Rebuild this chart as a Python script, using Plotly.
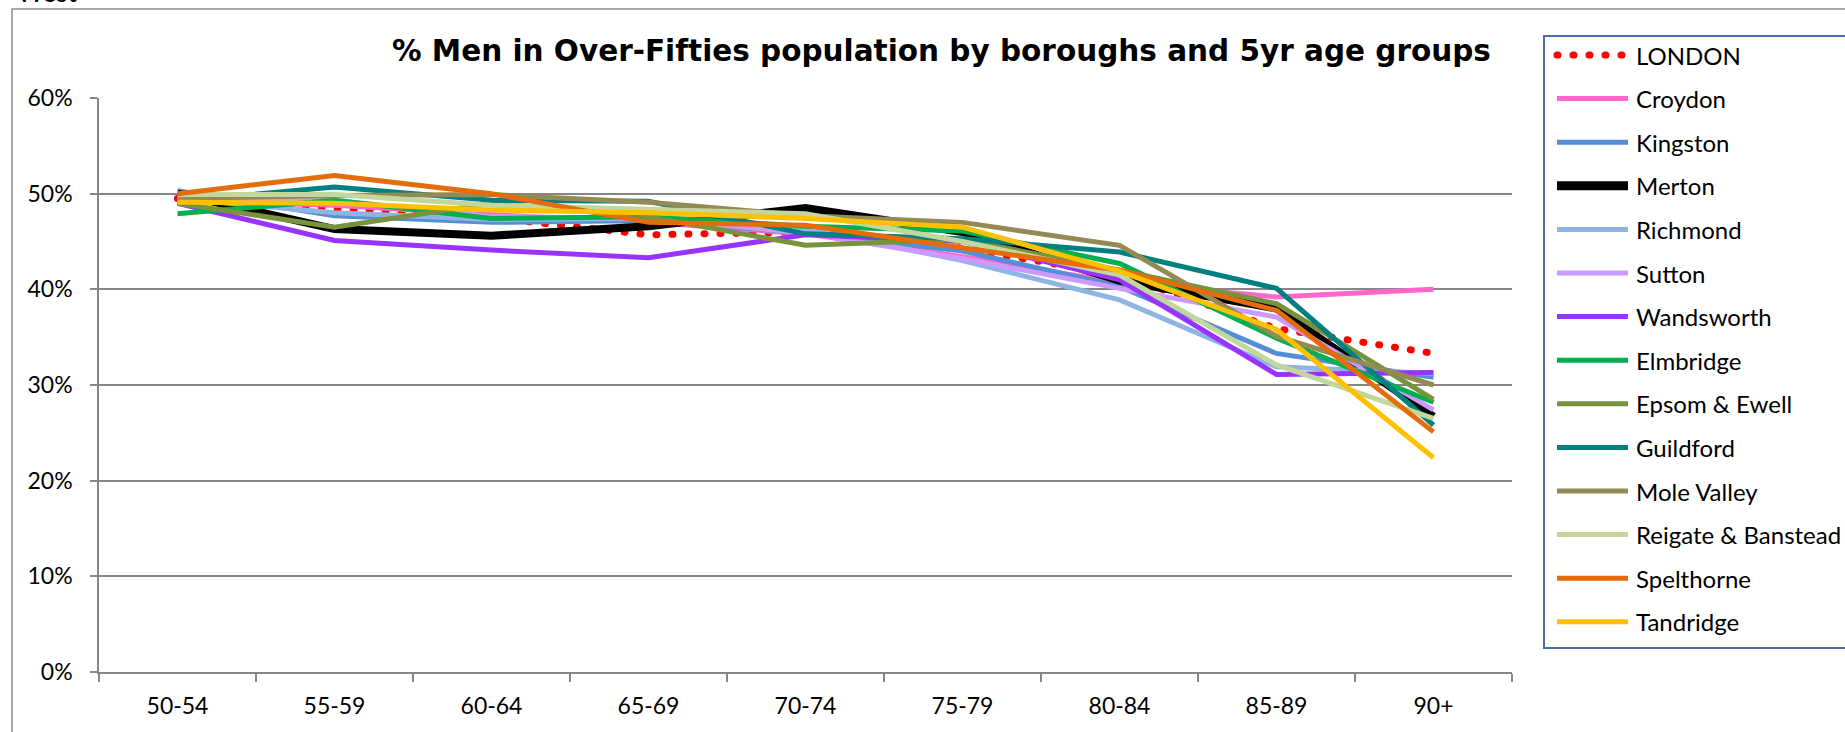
import plotly.graph_objects as go

# Tranches d'âge (axe des x)
age_groups = ["50-54", "55-59", "60-64", "65-69", "70-74", "75-79", "80-84", "85-89", "90+"]

# % d'hommes par tranche
london = [49.5, 48.5, 47.5, 45.7, 46.0, 44.3, 41.5, 35.9, 33.3]
croydon = [49.3, 48.8, 47.8, 47.0, 45.8, 43.4, 40.7, 39.2, 40.0]
kingston = [50.3, 47.7, 47.0, 47.2, 45.9, 44.0, 40.3, 33.3, 30.8]
merton = [50.0, 46.3, 45.6, 46.6, 48.5, 46.0, 40.9, 38.0, 26.7]
richmond = [49.5, 48.0, 47.3, 47.4, 46.3, 43.0, 38.9, 31.9, 31.2]
sutton = [49.5, 49.3, 47.6, 47.4, 45.9, 43.2, 40.1, 37.1, 27.4]
wandsworth = [49.0, 45.1, 44.1, 43.3, 45.7, 45.0, 41.0, 31.1, 31.3]
elmbridge = [47.9, 49.3, 47.4, 47.6, 46.6, 46.1, 42.7, 34.9, 28.2]
epsom_ewell = [49.0, 46.5, 49.0, 47.6, 44.6, 45.2, 42.0, 38.5, 28.5]
guildford = [49.2, 50.7, 49.3, 49.2, 45.8, 45.3, 43.9, 40.1, 25.8]
mole_valley = [49.5, 49.8, 49.9, 49.1, 47.7, 47.0, 44.6, 35.1, 30.0]
reigate_banstead = [49.9, 49.9, 48.8, 48.3, 47.9, 45.0, 41.5, 32.1, 26.5]
spelthorne = [50.0, 51.9, 50.0, 47.0, 46.7, 44.4, 42.0, 37.8, 25.1]
tandridge = [49.1, 49.0, 48.3, 48.0, 47.4, 46.5, 41.9, 35.8, 22.4]

names = ["LONDON", "Croydon", "Kingston", "Merton", "Richmond", "Sutton", "Wandsworth",
         "Elmbridge", "Epsom & Ewell", "Guildford", "Mole Valley", "Reigate & Banstead",
         "Spelthorne", "Tandridge"]
values = [london, croydon, kingston, merton, richmond, sutton, wandsworth,
          elmbridge, epsom_ewell, guildford, mole_valley, reigate_banstead,
          spelthorne, tandridge]

# Styles
colors = ["#FF0000", "#FF66CC", "#558ED5", "#000000", "#8EB4E3", "#CC99FF", "#9933FF",
          "#00B050", "#77933C", "#008080", "#948A54", "#C3D69B", "#E46C0A", "#FFC000"]
widths = [7, 5, 5, 8, 5, 5, 5, 5, 5, 5, 5, 5, 5, 5]
dashes = ["1px,15px"] + ["solid"] * 13
TEXT_FONT = "Lato, Open Sans, sans-serif"

W, H = 1845, 732
L, R, T, B = 99, 333, 98, 60
PW, PH = W - L - R, H - T - B


def px_x(p):
    return (p - L) / PW


def px_y(p):
    return (H - B - p) / PH


fig = go.Figure()

for name, vals, col, lw, dash in zip(names, values, colors, widths, dashes):
    fig.add_trace(go.Scatter(
        x=age_groups,
        y=vals,
        mode="lines",
        name=name,
        line=dict(color=col, width=lw, dash=dash),
        showlegend=False
    ))

# Cadre extérieur du graphique
fig.add_shape(type="rect", xref="paper", yref="paper",
              x0=px_x(12), x1=px_x(2000), y0=px_y(800), y1=px_y(9),
              line=dict(color="#8C8C8C", width=1.5), layer="below")

# Légende dessinée à la main (comme dans Excel)
fig.add_shape(type="rect", xref="paper", yref="paper",
              x0=px_x(1544), x1=px_x(2000), y0=px_y(648), y1=px_y(36),
              line=dict(color="#4A6FA5", width=2))
for i, (name, col, lw, dash) in enumerate(zip(names, colors, widths, dashes)):
    yc = 55 + i * 43.6
    fig.add_shape(type="line", xref="paper", yref="paper",
                  x0=px_x(1557), x1=px_x(1628), y0=px_y(yc), y1=px_y(yc),
                  line=dict(color=col, width=lw + (1 if lw == 8 else 0), dash=dash))
    fig.add_annotation(xref="paper", yref="paper", x=px_x(1634), y=px_y(yc),
                       xanchor="left", yanchor="middle", text=name, showarrow=False,
                       font=dict(family=TEXT_FONT, size=24, color="black"))

# Titre
fig.add_annotation(xref="paper", yref="paper", x=px_x(941), y=px_y(51),
                   xanchor="center", yanchor="middle", showarrow=False,
                   text="<b>% Men in Over-Fifties population by boroughs and 5yr age groups</b>",
                   font=dict(family="DejaVu Sans", size=29.5, color="black"))

# Texte coupé en haut à gauche
fig.add_annotation(xref="paper", yref="paper", x=px_x(15), y=px_y(10),
                   xanchor="left", yanchor="bottom", showarrow=False, text="West",
                   font=dict(family=TEXT_FONT, size=26, color="black"))

fig.update_layout(
    width=W,
    height=H,
    margin=dict(l=L, r=R, t=T, b=B, autoexpand=False),
    plot_bgcolor="white",
    paper_bgcolor="white",
    font=dict(family=TEXT_FONT, size=23, color="black"),
    showlegend=False,
    xaxis=dict(
        type="category",
        range=[-0.5, 8.5],
        showgrid=False,
        showline=True,
        linecolor="#868686",
        linewidth=2,
        ticks="outside",
        tickson="boundaries",
        ticklen=8,
        tickcolor="#868686",
        tickwidth=1.5,
        ticklabelstandoff=12,
        tickfont=dict(size=23)
    ),
    yaxis=dict(
        range=[0, 60],
        dtick=10,
        ticksuffix="%",
        showgrid=True,
        gridcolor="#868686",
        gridwidth=2,
        zeroline=False,
        showline=True,
        linecolor="#868686",
        linewidth=1.5,
        ticks="outside",
        ticklen=7,
        tickcolor="#868686",
        tickwidth=1.5,
        ticklabelstandoff=13,
        tickfont=dict(size=23)
    )
)

# Pas de marge autour de la page, et points ronds pour la ligne pointillée
post_js = """
document.body.style.margin = '0px';
document.querySelectorAll('path').forEach(function (p) {
    if ((p.style.strokeDasharray || '').indexOf('15px') >= 0) {
        p.style.strokeLinecap = 'round';
    }
});
"""

fig.write_html("out.html", post_script=post_js, config={"displayModeBar": False})
